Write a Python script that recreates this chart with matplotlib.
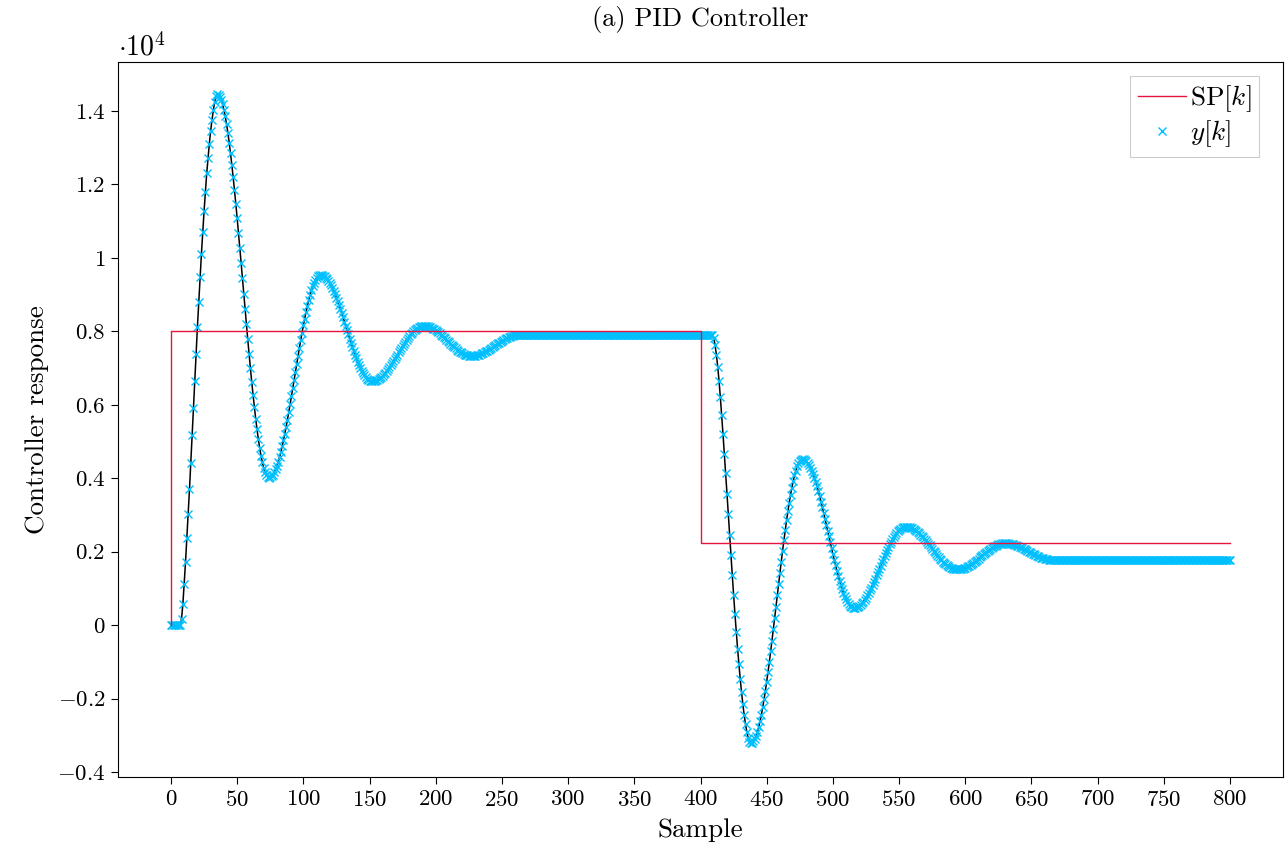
import numpy as np
import matplotlib
matplotlib.use("Agg")
import matplotlib.pyplot as plt

# set point steps (sample where it starts, level)
sp_k = [0, 0, 400, 800]
sp_level = [0, 8000, 2230, 2230]

# y[k], first transient starts at k=0
y_seg1 = [
    0, 0, 0, 0, 0, 0, 0, 0,
    180, 570, 1130, 1715, 2365, 3020, 3700, 4425, 5165, 5910, 6640, 7385, 8130, 8805,
    9475, 10100, 10700, 11270, 11800, 12300, 12725, 13115, 13465, 13755, 14015, 14240, 14405,
    14450, 14433, 14382, 14299, 14182, 14033, 13852, 13643, 13404, 13139, 12847, 12533, 12197,
    11843, 11470, 11084, 10686, 10278, 9864, 9445, 9025, 8606, 8192, 7784, 7386, 7000, 6628,
    6273, 5937, 5623, 5331, 5066, 4827, 4618, 4437, 4288, 4171, 4088, 4037, 4020,
    4029, 4056, 4100, 4162, 4241, 4336, 4447, 4574, 4714, 4868, 5035, 5212, 5400, 5597, 5801,
    6012, 6228, 6447, 6669, 6891, 7113, 7332, 7548, 7759, 7963, 8160, 8348, 8525, 8692, 8846,
    8986, 9113, 9224, 9319, 9398, 9460, 9504, 9531, 9540,
    9535, 9521, 9498, 9465, 9424, 9374, 9316, 9249, 9175, 9094, 9007, 8914, 8815, 8711, 8604,
    8493, 8380, 8265, 8148, 8032, 7915, 7800, 7687, 7576, 7469, 7365, 7266, 7173, 7086, 7005,
    6931, 6864, 6806, 6756, 6715, 6682, 6659, 6645, 6640,
    6642, 6650, 6662, 6679, 6700, 6727, 6757, 6791, 6830, 6872, 6918, 6966, 7017, 7071, 7127,
    7185, 7244, 7304, 7365, 7425, 7486, 7546, 7605, 7663, 7719, 7772, 7824, 7872, 7918, 7960,
    7999, 8033, 8063, 8090, 8111, 8128, 8140, 8148, 8150,
    8148, 8144, 8136, 8125, 8112, 8095, 8076, 8054, 8030, 8004, 7975, 7945, 7913, 7880, 7846,
    7811, 7776, 7740, 7704, 7669, 7634, 7600, 7567, 7535, 7505, 7476, 7450, 7426, 7404, 7385,
    7368, 7355, 7344, 7336, 7332, 7330,
    7331, 7334, 7340, 7348, 7357, 7369, 7382, 7398, 7415, 7434, 7454, 7475, 7497, 7521, 7545,
    7570, 7595, 7620, 7645, 7670, 7695, 7719, 7743, 7765, 7786, 7806, 7825, 7842, 7858, 7871,
    7883, 7892, 7900, 7906, 7909, 7910,
]
y_hold1 = 7910

# second transient after the set point drop
seg2_start = 409
y_seg2 = [
    7910, 7830, 7620, 7360, 7040, 6650, 6200, 5710, 5200, 4670, 4130, 3580, 3020, 2460, 1900,
    1360, 830, 310, -180, -640, -1070, -1470, -1830, -2160, -2450, -2700, -2910, -3070, -3170, -3210,
    -3198, -3160, -3098, -3011, -2901, -2767, -2612, -2435, -2238, -2022, -1789, -1540, -1278,
    -1002, -716, -420, -118, 189, 500, 810, 1121, 1428, 1730, 2026, 2312, 2587, 2850, 3099,
    3332, 3548, 3745, 3922, 4077, 4211, 4321, 4408, 4470, 4508, 4520,
    4514, 4494, 4461, 4416, 4358, 4288, 4207, 4114, 4011, 3898, 3776, 3645, 3508, 3363, 3213,
    3058, 2900, 2739, 2576, 2414, 2251, 2090, 1932, 1777, 1627, 1483, 1345, 1214, 1092, 979,
    876, 783, 702, 632, 574, 529, 496, 476, 470,
    474, 484, 502, 527, 558, 597, 641, 692, 748, 810, 876, 947, 1022, 1101, 1183, 1268, 1354,
    1442, 1531, 1619, 1708, 1796, 1882, 1967, 2049, 2127, 2203, 2274, 2340, 2402, 2458, 2509,
    2553, 2592, 2623, 2648, 2666, 2676, 2680,
    2678, 2672, 2663, 2650, 2634, 2614, 2590, 2564, 2534, 2502, 2467, 2429, 2390, 2349, 2306,
    2261, 2216, 2170, 2123, 2077, 2030, 1984, 1939, 1894, 1851, 1810, 1771, 1733, 1698, 1666,
    1636, 1610, 1586, 1566, 1550, 1537, 1528, 1522, 1520,
    1521, 1525, 1532, 1541, 1553, 1568, 1584, 1603, 1624, 1647, 1671, 1697, 1725, 1754, 1783,
    1813, 1844, 1875, 1906, 1937, 1967, 1996, 2025, 2052, 2079, 2103, 2126, 2147, 2166, 2182,
    2197, 2209, 2218, 2225, 2229, 2230,
    2229, 2227, 2222, 2216, 2209, 2200, 2189, 2177, 2163, 2149, 2133, 2116, 2099, 2080, 2061,
    2042, 2022, 2003, 1983, 1963, 1944, 1925, 1906, 1889, 1872, 1856, 1842, 1828, 1816, 1805,
    1796, 1789, 1783, 1778, 1776, 1775,
]
y_hold2 = 1775
n_samples = 801

x_ticks = list(range(0, 801, 50))
y_ticks = [-4000, -2000, 0, 2000, 4000, 6000, 8000, 10000, 12000, 14000]
y_tick_labels = ["-0.4", "-0.2", "0", "0.2", "0.4", "0.6", "0.8", "1", "1.2", "1.4"]

# stitch the series together
y = np.concatenate([
    y_seg1,
    np.full(seg2_start - len(y_seg1), y_hold1),
    y_seg2,
    np.full(n_samples - seg2_start - len(y_seg2), y_hold2),
])
k = np.arange(len(y))

plt.rcParams["font.family"] = "serif"
plt.rcParams["font.serif"] = ["cmr10"]
plt.rcParams["mathtext.fontset"] = "cm"
plt.rcParams["axes.formatter.use_mathtext"] = True
plt.rcParams["font.size"] = 16.5

fig = plt.figure(figsize=(12.87, 8.56), dpi=100)
ax = fig.add_axes([118 / 1287, 1 - 777 / 856, (1283 - 118) / 1287, (777 - 62) / 856])

ax.plot(k, y, color="black", linewidth=1.1, zorder=2)
ax.plot(k, y, linestyle="none", marker="x", color="#00BFFF", markersize=5.6,
        markeredgewidth=1.0, zorder=3, label=r"$y[k]$")
ax.plot(sp_k, sp_level, drawstyle="steps-post", color="#E8143F", linewidth=1.0,
        zorder=4, label=r"SP$[k]$")

ax.set_xlim(-40, 840)
ax.set_ylim(-4135, 15335)
ax.set_xticks(x_ticks)
ax.set_xticklabels([f"${t}$" for t in x_ticks])
ax.set_yticks(y_ticks)
ax.set_yticklabels([f"${t}$" for t in y_tick_labels])
ax.tick_params(direction="out", length=5, width=0.8, top=False, right=False, pad=4)
for s in ax.spines.values():
    s.set_linewidth(0.8)

ax.text(0.0, 1.0, r"$\cdot10^{4}$", transform=ax.transAxes, ha="left", va="bottom",
        fontsize=20)
ax.set_title("(a) PID Controller", pad=26, fontsize=19)
ax.set_xlabel("Sample", labelpad=6, fontsize=19.5)
ax.set_ylabel("Controller response", labelpad=6, fontsize=19.5)

# legend order: SP first
h, l = ax.get_legend_handles_labels()
leg = ax.legend([h[1], h[0]], [l[1], l[0]], loc="upper right", fancybox=False,
                framealpha=1, edgecolor="#cccccc", handlelength=1.75, handletextpad=0.15,
                borderaxespad=0.5, borderpad=0.3, labelspacing=0.15,
                bbox_to_anchor=(1 - 10 / 1165, 1), fontsize=19.5)
leg.get_frame().set_linewidth(0.8)

fig.savefig("out.png", dpi=100)
